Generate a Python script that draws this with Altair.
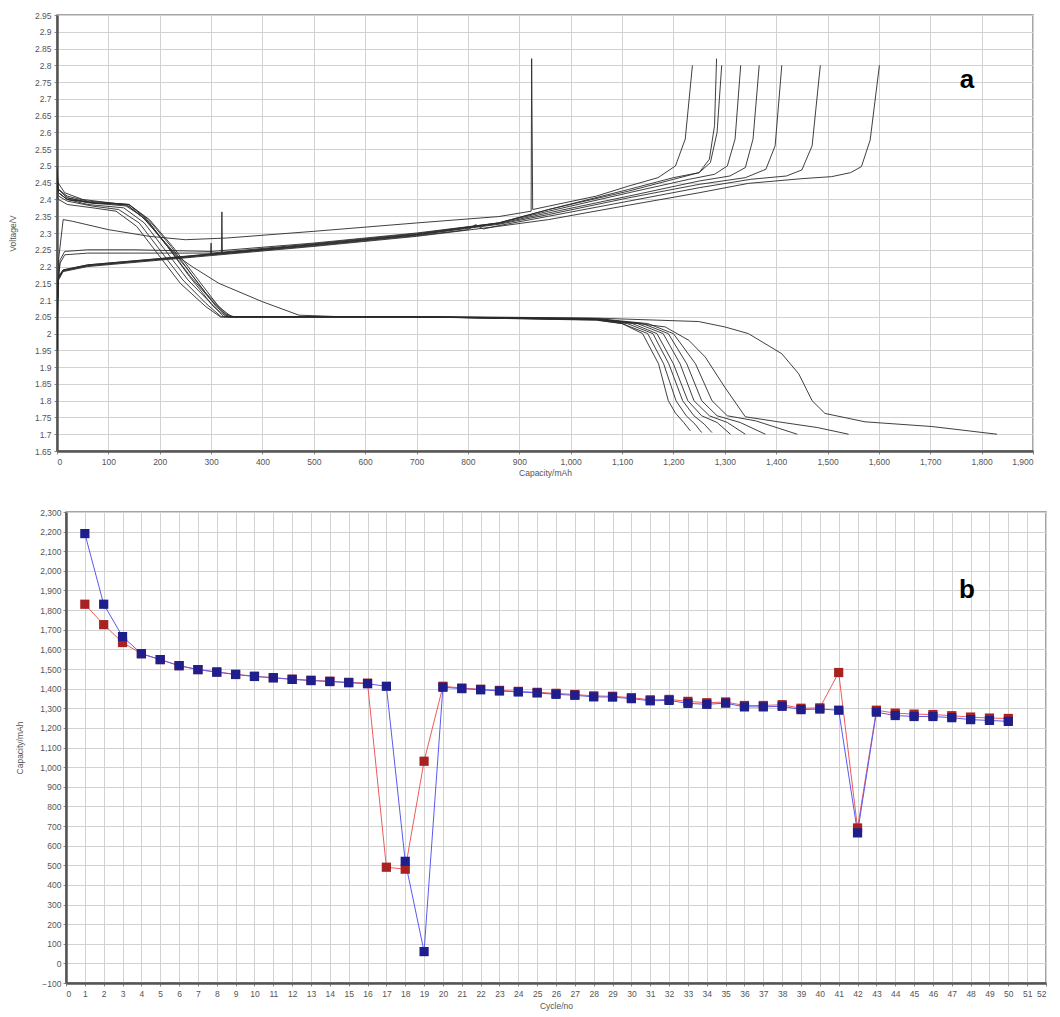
import altair as alt
import pandas as pd

# ---------------- Panel a: voltage profiles ----------------
discharge_curves = {
    "d1": [(0,2.50),(2,2.45),(15,2.42),(50,2.40),(130,2.385),(165,2.35),(200,2.29),(235,2.23),(263,2.20),(315,2.15),(400,2.095),(471,2.055),(560,2.05),(800,2.05),(1054,2.046),(1249,2.036),(1300,2.02),(1346,2.0),(1411,1.94),(1444,1.88),(1470,1.80),(1495,1.762),(1573,1.737),(1703,1.723),(1830,1.70)],
    "d2": [(0,2.48),(3,2.43),(20,2.41),(60,2.395),(140,2.385),(175,2.34),(210,2.27),(250,2.20),(290,2.12),(330,2.058),(345,2.05),(700,2.05),(1050,2.045),(1184,2.02),(1230,1.98),(1262,1.93),(1300,1.84),(1340,1.752),(1400,1.738),(1480,1.72),(1541,1.70)],
    "d3": [(0,2.46),(3,2.43),(20,2.405),(60,2.39),(140,2.38),(180,2.33),(220,2.25),(260,2.17),(300,2.10),(328,2.055),(340,2.05),(700,2.05),(1050,2.045),(1150,2.03),(1200,2.0),(1243,1.91),(1275,1.80),(1305,1.755),(1360,1.74),(1441,1.70)],
    "d4": [(0,2.45),(3,2.42),(20,2.40),(60,2.385),(130,2.375),(170,2.33),(210,2.25),(255,2.16),(300,2.09),(325,2.05),(700,2.05),(1050,2.043),(1140,2.03),(1190,2.0),(1226,1.91),(1255,1.80),(1285,1.755),(1330,1.735),(1379,1.70)],
    "d5": [(0,2.45),(3,2.42),(20,2.40),(70,2.39),(135,2.385),(172,2.34),(215,2.26),(258,2.17),(305,2.08),(330,2.05),(700,2.05),(1050,2.043),(1130,2.03),(1180,2.0),(1213,1.91),(1240,1.80),(1270,1.755),(1305,1.735),(1340,1.70)],
    "d6": [(0,2.42),(3,2.41),(20,2.395),(70,2.38),(120,2.37),(160,2.33),(200,2.25),(245,2.16),(290,2.09),(320,2.05),(700,2.05),(1050,2.042),(1120,2.03),(1168,2.0),(1200,1.91),(1228,1.80),(1255,1.755),(1285,1.735),(1311,1.70)],
    "d7": [(0,2.44),(3,2.42),(20,2.40),(70,2.39),(140,2.385),(178,2.34),(222,2.26),(265,2.17),(310,2.08),(335,2.05),(700,2.05),(1050,2.042),(1110,2.03),(1160,2.0),(1191,1.91),(1218,1.80),(1240,1.755),(1260,1.73),(1275,1.705)],
    "d8": [(0,2.41),(3,2.40),(20,2.385),(70,2.375),(115,2.365),(155,2.32),(195,2.24),(240,2.15),(290,2.08),(318,2.05),(700,2.05),(1050,2.041),(1100,2.03),(1150,2.0),(1181,1.91),(1205,1.80),(1225,1.755),(1242,1.73),(1255,1.705)],
    "d9": [(0,2.45),(3,2.43),(20,2.405),(70,2.39),(140,2.385),(180,2.34),(225,2.26),(270,2.17),(315,2.08),(340,2.05),(700,2.05),(1050,2.04),(1100,2.03),(1140,2.0),(1171,1.91),(1190,1.80),(1204,1.763),(1220,1.735),(1233,1.71)],
}

charge_curves = {
    "c1": [(0,2.0),(3,2.22),(12,2.34),(30,2.335),(100,2.31),(180,2.29),(250,2.28),(330,2.285),(500,2.305),(700,2.33),(860,2.349),(923,2.365),(924,2.82),(926,2.37),(957,2.38),(1050,2.41),(1113,2.44),(1170,2.465),(1204,2.50),(1223,2.58),(1237,2.80)],
    "c2": [(0,1.96),(2,2.15),(6,2.22),(15,2.245),(60,2.25),(150,2.25),(300,2.245),(500,2.27),(700,2.30),(860,2.33),(957,2.37),(1113,2.43),(1200,2.465),(1250,2.48),(1270,2.52),(1280,2.62),(1284,2.82)],
    "c3": [(0,1.96),(2,2.15),(6,2.21),(15,2.235),(60,2.24),(150,2.24),(300,2.24),(500,2.268),(700,2.298),(860,2.33),(957,2.37),(1113,2.425),(1200,2.46),(1250,2.48),(1272,2.51),(1285,2.60),(1294,2.80)],
    "c4": [(0,1.95),(1,2.10),(3,2.17),(12,2.19),(60,2.205),(244,2.23),(500,2.266),(700,2.296),(860,2.33),(957,2.365),(1113,2.42),(1230,2.46),(1280,2.475),(1305,2.50),(1320,2.58),(1331,2.80)],
    "c5": [(0,1.95),(1,2.10),(3,2.17),(12,2.19),(60,2.205),(244,2.229),(320,2.24),(321,2.363),(322,2.24),(500,2.265),(700,2.295),(860,2.328),(957,2.36),(1113,2.41),(1250,2.455),(1310,2.47),(1340,2.495),(1355,2.58),(1367,2.80)],
    "c6": [(0,1.95),(1,2.10),(3,2.165),(12,2.188),(60,2.203),(244,2.228),(299,2.236),(300,2.27),(301,2.236),(500,2.264),(700,2.294),(860,2.326),(957,2.355),(1113,2.405),(1250,2.445),(1340,2.465),(1380,2.49),(1398,2.56),(1411,2.80)],
    "c7": [(0,1.95),(1,2.10),(3,2.165),(12,2.187),(60,2.202),(244,2.227),(500,2.262),(700,2.292),(800,2.31),(815,2.325),(830,2.312),(860,2.322),(957,2.35),(1113,2.395),(1250,2.435),(1350,2.46),(1420,2.47),(1450,2.488),(1470,2.56),(1486,2.80)],
    "c8": [(0,1.95),(1,2.10),(3,2.16),(12,2.185),(60,2.20),(244,2.225),(500,2.26),(700,2.29),(860,2.32),(957,2.34),(1113,2.383),(1250,2.42),(1346,2.448),(1450,2.462),(1508,2.468),(1545,2.48),(1566,2.498),(1583,2.577),(1601,2.80)],
}

cap_ticks = [i * 100 for i in range(20)]
volt_ticks = [round(1.65 + i * 0.05, 2) for i in range(27)]

# ---------------- Panel b: capacity vs cycle ----------------
cycles = list(range(1, 51))
blue_capacity = [2190, 1830, 1665, 1578, 1548, 1517, 1497, 1484, 1472, 1462,
                 1455, 1447, 1441, 1436, 1430, 1425, 1412, 520, 60, 1407,
                 1400, 1394, 1388, 1383, 1378, 1371, 1366, 1358, 1357, 1349,
                 1338, 1340, 1325, 1320, 1326, 1307, 1307, 1310, 1293, 1296,
                 1290, 665, 1280, 1263, 1258, 1258, 1252, 1242, 1238, 1233]
red_capacity = [1830, 1726, 1635, 1578, 1548, 1517, 1497, 1485, 1473, 1463,
                1456, 1448, 1443, 1438, 1432, 1428, 490, 480, 1030, 1412,
                1403, 1397, 1391, 1386, 1381, 1376, 1370, 1363, 1361, 1354,
                1343, 1345, 1335, 1328, 1332, 1314, 1314, 1318, 1300, 1302,
                1482, 690, 1290, 1275, 1270, 1268, 1262, 1255, 1250, 1248]
cycle_ticks = list(range(0, 53))
capacity_ticks = list(range(-100, 2400, 100))

# ---------------- build tables ----------------
rows = []
for name, pts in list(discharge_curves.items()) + list(charge_curves.items()):
    for k, (c, v) in enumerate(pts):
        rows.append({"curve": name, "cap": c, "volt": v, "k": k})
curves_df = pd.DataFrame(rows)

cyc_df = pd.DataFrame({"cycle": cycles, "blue": blue_capacity, "red": red_capacity})

FONT = "Liberation Sans"
TXT = "#555555"

def axis_style(**kw):
    base = dict(labelFont=FONT, labelFontSize=8.5, labelColor=TXT,
                titleFont=FONT, titleFontSize=8.5, titleFontWeight="normal", titleColor=TXT,
                gridColor="#d2d2d2", gridWidth=1, domainColor="#555555", domainWidth=2.5,
                tickColor="#888888", tickSize=3)
    base.update(kw)
    return alt.Axis(**base)

def spacer(w):
    return alt.Chart(pd.DataFrame({"t": [""]})).mark_text().encode(text="t:N").properties(
        width=w, height=1, view=alt.ViewBackground(stroke="transparent"))

W1, H1 = 976, 436
top_lines = alt.Chart(curves_df).mark_line(color="#2a2a2a", strokeWidth=0.9, clip=True).encode(
    x=alt.X("cap:Q", scale=alt.Scale(domain=[0, 1900], nice=False, zero=False),
            axis=axis_style(values=cap_ticks, format=",.0f", title="Capacity/mAh", labelPadding=3, titlePadding=3)),
    y=alt.Y("volt:Q", scale=alt.Scale(domain=[1.65, 2.95], nice=False, zero=False),
            axis=axis_style(values=volt_ticks, format=".2~f", title="Voltage/V", labelPadding=3, titlePadding=17)),
    detail="curve:N",
    order="k:Q",
)
label_a = alt.Chart(pd.DataFrame({"t": ["a"]})).mark_text(
    font="Liberation Sans", fontSize=26, fontWeight="bold", color="#000000", align="center", baseline="middle"
).encode(text="t:N", x=alt.value(910), y=alt.value(65))
top = alt.layer(top_lines, label_a).properties(width=W1, height=H1)

W2, H2 = 980, 471
xb = alt.X("cycle:Q", scale=alt.Scale(domain=[0, 52], nice=False, zero=False),
           axis=axis_style(values=cycle_ticks, format="d", title="Cycle/no", labelPadding=3, titlePadding=4))
yb_blue = alt.Y("blue:Q", scale=alt.Scale(domain=[-100, 2300], nice=False, zero=False),
                axis=axis_style(values=capacity_ticks, format=",.0f", title="Capacity/mAh", labelPadding=2, titlePadding=15))
yb_red = alt.Y("red:Q", scale=alt.Scale(domain=[-100, 2300], nice=False, zero=False),
               axis=axis_style(values=capacity_ticks, format=",.0f", title="Capacity/mAh", labelPadding=2, titlePadding=15))
base_b = alt.Chart(cyc_df)
red_line = base_b.mark_line(color="#f05a5a", strokeWidth=1).encode(x=xb, y=yb_red)
blue_line = base_b.mark_line(color="#5a5af2", strokeWidth=1).encode(x=xb, y=yb_blue)
red_pts = base_b.mark_square(color="#a82222", size=85, opacity=1).encode(x=xb, y=yb_red)
blue_pts = base_b.mark_square(color="#1e1e8c", size=85, opacity=1).encode(x=xb, y=yb_blue)
label_b = alt.Chart(pd.DataFrame({"t": ["b"]})).mark_text(
    font="Liberation Sans", fontSize=26, fontWeight="bold", color="#000000", align="center", baseline="middle"
).encode(text="t:N", x=alt.value(901), y=alt.value(78))
bottom = alt.layer(red_line, blue_line, red_pts, blue_pts, label_b).properties(width=W2, height=H2)

top_row = alt.hconcat(spacer(5), top, spacing=0)
bottom_row = alt.hconcat(spacer(12), bottom, spacing=0)

chart = alt.vconcat(top_row, bottom_row, spacing=28).properties(
    padding={"left": 0, "top": 9, "right": 5, "bottom": 5},
    background="white",
).configure_view(stroke="#888888", strokeWidth=1.5)

chart.save("out.html", embed_options={"renderer": "svg", "actions": False})
